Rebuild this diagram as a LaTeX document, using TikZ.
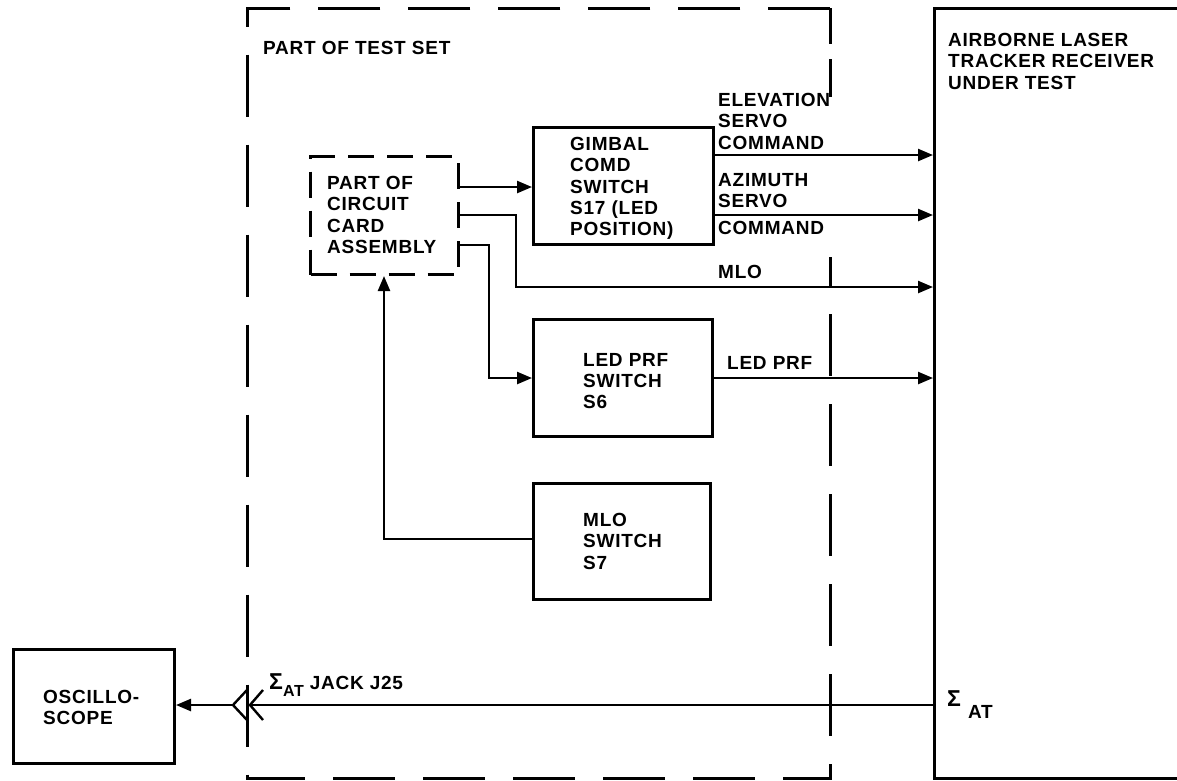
\documentclass[tikz,border=0pt]{standalone}
\usepackage{fontspec}
\setmainfont{Liberation Sans}[LetterSpace=4]
\usetikzlibrary{arrows.meta}
\begin{document}
\begin{tikzpicture}[x=1pt,y=-1pt,
  lbl/.style={font=\fontsize{19}{21.3}\selectfont\bfseries, inner sep=0pt, anchor=north west, align=left},
  box/.style={draw, line width=3pt, anchor=north west, inner sep=0pt, rectangle},
  dashline/.style={line width=3pt, dash pattern=on 62pt off 28pt},
  dashsmall/.style={box, dash pattern=on 26pt off 13pt},
  conn/.style={line width=2.4pt},
  arr/.style={conn, -{Triangle[length=15pt,width=12pt]}},
]
\useasboundingbox (0,0) rectangle (1177,780);

% boxes
\node[inner sep=0pt, anchor=north west, minimum width=583pt, minimum height=770pt] (testset) at (247,8) {};
\draw[dashline] (testset.north east) -- (testset.north west) -- (testset.south west) -- (testset.south east) -- ([yshift=-249pt]testset.north east);
\draw[line width=3pt, dash pattern=on 36pt off 15pt on 40pt off 20pt] (testset.north east) -- ([yshift=-89pt]testset.north east);
\node[box, minimum width=320pt, minimum height=770pt] (rcv) at (933,7) {};
\node[dashsmall, minimum width=148pt, minimum height=118pt] (card) at (309,155) {};
\node[box, minimum width=180pt, minimum height=117pt] (gimbal) at (532,126) {};
\node[box, minimum width=179pt, minimum height=117pt] (led) at (532,318) {};
\node[box, minimum width=177pt, minimum height=116pt] (mlo) at (532,482) {};
\node[box, minimum width=161pt, minimum height=114pt] (scope) at (12,648) {};

% labels
\node[lbl] (tTest) at (263,41) {PART OF TEST SET};
\node[lbl] (tRcv) at (948,33) {AIRBORNE LASER\\TRACKER RECEIVER\\UNDER TEST};
\node[lbl] (tCard) at (327,176) {PART OF\\CIRCUIT\\CARD\\ASSEMBLY};
\node[lbl] (tGimbal) at (570,137) {GIMBAL\\COMD\\SWITCH\\S17 (LED\\POSITION)};
\node[lbl] (tLed) at (583,353) {LED PRF\\SWITCH\\S6};
\node[lbl] (tMlo) at (583,513) {MLO\\SWITCH\\S7};
\node[lbl] (tScope) at (43,690) {OSCILLO-\\SCOPE};
\node[lbl] (tElev) at (718,93) {ELEVATION\\SERVO\\COMMAND};
\node[lbl] (tAz) at (718,173) {AZIMUTH\\SERVO};
\node[lbl] (tAzC) at (718,221) {COMMAND};
\node[lbl] (tMloS) at (718,265) {MLO};
\node[lbl] (tLedS) at (727,356) {LED PRF};
\node[lbl, anchor=base west] (tJack) at (269,689) {{\fontsize{23}{23}\selectfont Σ}\raisebox{-7pt}{\fontsize{16}{16}\selectfont AT} JACK J25};
\node[lbl, anchor=base west] (tSig) at (947,706) {{\fontsize{23}{23}\selectfont Σ}\hspace{7pt}\raisebox{-12pt}{AT}};

% connectors
\coordinate (c1) at ([yshift=-32pt]card.north east);
\draw[arr] (c1) -- (c1 -| gimbal.west);
\coordinate (c2) at ([yshift=-60pt]card.north east);
\draw[arr] (c2) -- ++(56,0) |- ([yshift=-280pt]rcv.north west);
\coordinate (c3) at ([yshift=-90pt]card.north east);
\draw[arr] (c3) -- ++(29,0) |- (led.west);
\draw[arr] ([yshift=-57pt]mlo.north west) -| ([xshift=75pt]card.south west);

\coordinate (e1) at ([yshift=-29pt]gimbal.north east);
\draw[arr] (e1) -- (e1 -| rcv.west);
\coordinate (e2) at ([yshift=-89pt]gimbal.north east);
\draw[arr] (e2) -- (e2 -| rcv.west);
\draw[arr] (led.east) -- (led.east -| rcv.west);

% sigma AT line and jack
\coordinate (sig) at ([yshift=-698pt]rcv.north west);
\coordinate (jack) at (233,705);
\coordinate (jack2) at (250,705);
\draw[conn] (sig) -- (jack2);
\draw[conn] ([shift={(14,-15)}]jack) -- (jack) -- ([shift={(14,15)}]jack);
\draw[conn] ([shift={(13,-15)}]jack2) -- (jack2) -- ([shift={(13,15)}]jack2);
\draw[arr] (jack) -- (jack -| scope.east);
\end{tikzpicture}
\end{document}
